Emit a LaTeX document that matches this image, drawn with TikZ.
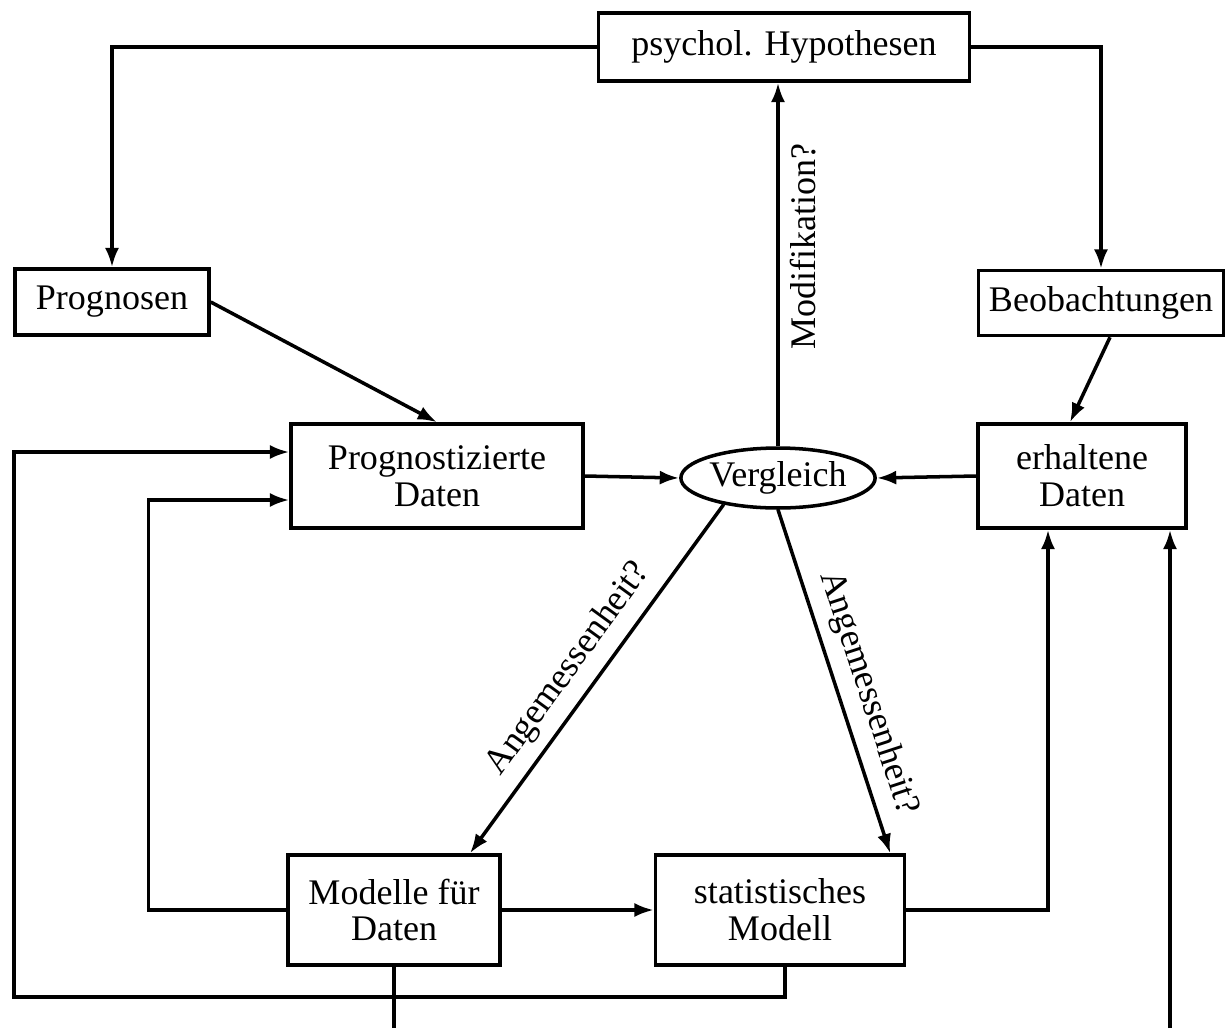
\documentclass[tikz,border=0pt]{standalone}
\usepackage{fontspec}
\setmainfont{Liberation Serif}
\usetikzlibrary{shapes.geometric,arrows.meta}
\tikzstyle{box}=[rectangle,draw=black,line width=2pt,align=center,
                 inner sep=0pt,font=\fontsize{20.5}{21}\selectfont]
\tikzstyle{oval}=[ellipse,draw=black,line width=2pt,inner sep=0pt,
                  minimum width=3.6cm,minimum height=1.2cm,
                  font=\fontsize{20.5}{21}\selectfont]
\tikzstyle{arr}=[line width=2pt,-{Latex[length=11pt,width=8pt]}]
\tikzstyle{lbl}=[sloped,inner sep=6pt,font=\fontsize{20.5}{21}\selectfont]

\begin{document}
\begin{tikzpicture}[x=0.02cm,y=-0.02cm]
    \useasboundingbox (0,0) rectangle (1226,1028);
    % boxes
    \node (hyp) at (784,47) [box,minimum width=7.42cm,minimum height=1.36cm]{psychol. Hypothesen};
    \node (prog) at (112,302) [box,minimum width=3.88cm,minimum height=1.32cm]{Prognosen};
    \node (beob) at (1101,303) [box,minimum width=4.9cm,minimum height=1.3cm]{Beobachtungen};
    \node (progd) at (437,476) [box,minimum width=5.84cm,minimum height=2.08cm]{Prognostizierte\\Daten};
    \node (verg) at (778,478) [oval]{Vergleich};
    \node (erh) at (1082,476) [box,minimum width=4.16cm,minimum height=2.08cm]{erhaltene\\Daten};
    \node (mod) at (394,910) [box,minimum width=4.24cm,minimum height=2.2cm]{Modelle für\\Daten};
    \node (stat) at (780,910) [box,minimum width=4.98cm,minimum height=2.2cm]{statistisches\\Modell};
    \coordinate (lo) at (14,997);
    \coordinate (out1) at (394,1028);
    \coordinate (in1) at (1170,1028);
    % connectors
    \draw[arr] (hyp.west) -| (prog.north);
    \draw[arr] (hyp.east) -| (beob.north);
    \draw[arr] (prog.east) -- (progd.north);
    \draw[arr] ([xshift=0.18cm]beob.south) -- ([xshift=-0.24cm]erh.north);
    \draw[arr] (progd.east) -- (verg.west);
    \draw[arr] (erh.west) -- (verg.east);
    \draw[arr] (verg.north) -- (verg.north |- hyp.south)
        node[lbl,pos=0.55,below]{Modifikation?};
    \draw[arr] (verg.206) -- ([xshift=1.52cm]mod.north)
        node[lbl,pos=0.52,above]{Angemessenheit?};
    \draw[arr] (verg.south) -- ([xshift=-0.32cm]stat.north east)
        node[lbl,pos=0.56,above]{Angemessenheit?};
    \draw[arr] (mod.east) -- (stat.west);
    \draw[arr] (stat.east) -| ([xshift=-0.68cm]erh.south);
    \draw[arr] (mod.west) -- ++(-138,0) |- ([yshift=-0.48cm]progd.west);
    \draw[arr] ([xshift=0.1cm]stat.south) |- (lo) |- ([yshift=0.48cm]progd.west);
    \draw[line width=2pt] (mod.south) -- (out1);
    \draw[arr] (in1) -- (in1 |- erh.south);
\end{tikzpicture}
\end{document}
